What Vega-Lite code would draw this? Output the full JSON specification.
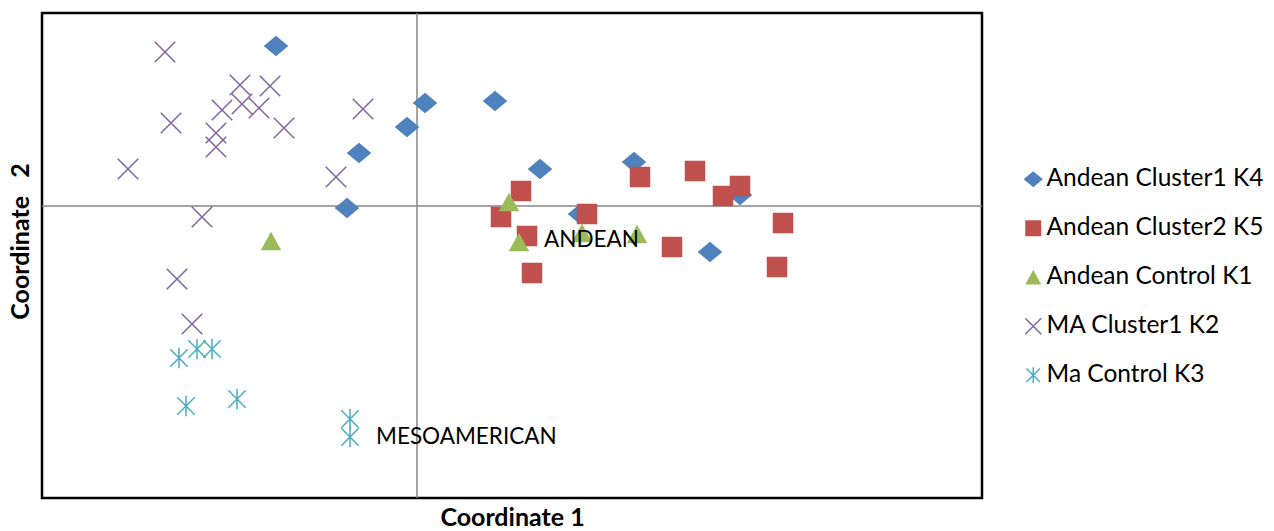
{
  "$schema": "https://vega.github.io/schema/vega-lite/v6.json",
  "width": 940,
  "height": 485,
  "autosize": "none",
  "padding": {"left": 42, "top": 13, "right": 292, "bottom": 33},
  "background": "white",
  "config": {
    "view": {"stroke": "black", "strokeWidth": 2.5},
    "font": "Lato",
    "axis": {"domain": false, "ticks": false, "labels": false, "grid": false, "titleFont": "Lato", "titleFontSize": 25, "titleFontWeight": "bold", "titleColor": "black"},
    "legend": {"orient": "none", "legendX": 979, "legendY": 154, "padding": 0, "labelFont": "Lato", "labelFontSize": 24.5, "labelColor": "black", "symbolSize": 256, "rowPadding": 24, "labelOffset": 1, "symbolStrokeWidth": 1.5, "labelLimit": 400}
  },
  "datasets": {
    "pts": [
      {"s": "Andean Cluster1 K4", "x": -1.41, "y": 1.60},
      {"s": "Andean Cluster1 K4", "x": 0.08, "y": 1.03},
      {"s": "Andean Cluster1 K4", "x": 0.78, "y": 1.05},
      {"s": "Andean Cluster1 K4", "x": -0.10, "y": 0.79},
      {"s": "Andean Cluster1 K4", "x": -0.58, "y": 0.53},
      {"s": "Andean Cluster1 K4", "x": 1.23, "y": 0.37},
      {"s": "Andean Cluster1 K4", "x": -0.70, "y": -0.02},
      {"s": "Andean Cluster1 K4", "x": 2.17, "y": 0.44},
      {"s": "Andean Cluster1 K4", "x": 3.23, "y": 0.11},
      {"s": "Andean Cluster1 K4", "x": 1.63, "y": -0.08},
      {"s": "Andean Cluster1 K4", "x": 2.93, "y": -0.46},
      {"s": "Andean Cluster2 K5", "x": 1.04, "y": 0.15},
      {"s": "Andean Cluster2 K5", "x": 0.84, "y": -0.11},
      {"s": "Andean Cluster2 K5", "x": 1.10, "y": -0.30},
      {"s": "Andean Cluster2 K5", "x": 1.15, "y": -0.67},
      {"s": "Andean Cluster2 K5", "x": 1.70, "y": -0.08},
      {"s": "Andean Cluster2 K5", "x": 2.23, "y": 0.29},
      {"s": "Andean Cluster2 K5", "x": 2.78, "y": 0.35},
      {"s": "Andean Cluster2 K5", "x": 3.06, "y": 0.10},
      {"s": "Andean Cluster2 K5", "x": 3.23, "y": 0.20},
      {"s": "Andean Cluster2 K5", "x": 3.66, "y": -0.17},
      {"s": "Andean Cluster2 K5", "x": 3.60, "y": -0.61},
      {"s": "Andean Cluster2 K5", "x": 2.55, "y": -0.41},
      {"s": "Andean Control K1", "x": 0.92, "y": 0.04},
      {"s": "Andean Control K1", "x": 1.02, "y": -0.36},
      {"s": "Andean Control K1", "x": 1.65, "y": -0.27},
      {"s": "Andean Control K1", "x": 2.20, "y": -0.28},
      {"s": "Andean Control K1", "x": -1.46, "y": -0.35},
      {"s": "MA Cluster1 K2", "x": -2.52, "y": 1.54},
      {"s": "MA Cluster1 K2", "x": -1.77, "y": 1.21},
      {"s": "MA Cluster1 K2", "x": -1.47, "y": 1.20},
      {"s": "MA Cluster1 K2", "x": -1.95, "y": 0.96},
      {"s": "MA Cluster1 K2", "x": -1.75, "y": 1.02},
      {"s": "MA Cluster1 K2", "x": -1.58, "y": 0.98},
      {"s": "MA Cluster1 K2", "x": -2.46, "y": 0.83},
      {"s": "MA Cluster1 K2", "x": -2.01, "y": 0.73},
      {"s": "MA Cluster1 K2", "x": -2.01, "y": 0.59},
      {"s": "MA Cluster1 K2", "x": -1.33, "y": 0.78},
      {"s": "MA Cluster1 K2", "x": -0.54, "y": 0.97},
      {"s": "MA Cluster1 K2", "x": -2.89, "y": 0.37},
      {"s": "MA Cluster1 K2", "x": -0.81, "y": 0.29},
      {"s": "MA Cluster1 K2", "x": -2.15, "y": -0.11},
      {"s": "MA Cluster1 K2", "x": -2.40, "y": -0.73},
      {"s": "MA Cluster1 K2", "x": -2.25, "y": -1.18},
      {"s": "Ma Control K3", "x": -2.38, "y": -1.52},
      {"s": "Ma Control K3", "x": -2.20, "y": -1.43},
      {"s": "Ma Control K3", "x": -2.05, "y": -1.43},
      {"s": "Ma Control K3", "x": -2.31, "y": -2.00},
      {"s": "Ma Control K3", "x": -1.80, "y": -1.93},
      {"s": "Ma Control K3", "x": -0.67, "y": -2.13},
      {"s": "Ma Control K3", "x": -0.67, "y": -2.31}
    ],
    "labels": [
      {"label": "ANDEAN", "x": 1.27, "y": -0.34},
      {"label": "MESOAMERICAN", "x": -0.41, "y": -2.31}
    ]
  },
  "layer": [
    {
      "data": {"values": [{"z": 0}]},
      "mark": {"type": "rule", "color": "#868686", "strokeWidth": 1.5},
      "encoding": {
        "x": {"field": "z", "type": "quantitative", "scale": {"domain": [-3.75, 5.65], "nice": false, "zero": false}, "title": "Coordinate 1", "axis": {"titlePadding": 7}}
      }
    },
    {
      "data": {"values": [{"z": 0}]},
      "mark": {"type": "rule", "color": "#868686", "strokeWidth": 1.5},
      "encoding": {
        "y": {"field": "z", "type": "quantitative", "scale": {"domain": [-2.92, 1.93], "nice": false, "zero": false}, "title": "Coordinate\u00a0\u00a0 2", "axis": {"titlePadding": 9, "titleY": 228}}
      }
    },
    {
      "data": {"name": "pts"},
      "mark": {"type": "point", "opacity": 1, "size": 420, "strokeWidth": 1.5},
      "encoding": {
        "x": {"field": "x", "type": "quantitative", "scale": {"domain": [-3.75, 5.65], "nice": false, "zero": false}, "title": "Coordinate 1", "axis": {"titlePadding": 7}},
        "y": {"field": "y", "type": "quantitative", "scale": {"domain": [-2.92, 1.93], "nice": false, "zero": false}, "title": "Coordinate\u00a0\u00a0 2", "axis": {"titlePadding": 9, "titleY": 228}},
        "shape": {"field": "s", "type": "nominal", "title": null,
          "scale": {"domain": ["Andean Cluster1 K4", "Andean Cluster2 K5", "Andean Control K1", "MA Cluster1 K2", "Ma Control K3"],
                    "range": ["M-1.2,0L0,-1L1.2,0L0,1Z", "square", "M-1,0.9L1,0.9L0,-0.9Z", "M-1,-1L1,1M-1,1L1,-1", "M0,-1L0,1M-0.85,-0.85L0.85,0.85M-0.85,0.85L0.85,-0.85"]}},
        "fill": {"field": "s", "type": "nominal", "title": null,
          "scale": {"domain": ["Andean Cluster1 K4", "Andean Cluster2 K5", "Andean Control K1", "MA Cluster1 K2", "Ma Control K3"],
                    "range": ["#4F81BD", "#C0504D", "#9BBB59", "transparent", "transparent"]}},
        "stroke": {"field": "s", "type": "nominal", "title": null,
          "scale": {"domain": ["Andean Cluster1 K4", "Andean Cluster2 K5", "Andean Control K1", "MA Cluster1 K2", "Ma Control K3"],
                    "range": ["transparent", "transparent", "transparent", "#8064A2", "#4BACC6"]}}
      }
    },
    {
      "data": {"name": "labels"},
      "mark": {"type": "text", "align": "left", "baseline": "middle", "font": "Lato", "fontSize": 22.5, "color": "black"},
      "encoding": {
        "x": {"field": "x", "type": "quantitative", "scale": {"domain": [-3.75, 5.65], "nice": false, "zero": false}, "title": "Coordinate 1", "axis": {"titlePadding": 7}},
        "y": {"field": "y", "type": "quantitative", "scale": {"domain": [-2.92, 1.93], "nice": false, "zero": false}, "title": "Coordinate\u00a0\u00a0 2", "axis": {"titlePadding": 9, "titleY": 228}},
        "text": {"field": "label"}
      }
    }
  ]
}
